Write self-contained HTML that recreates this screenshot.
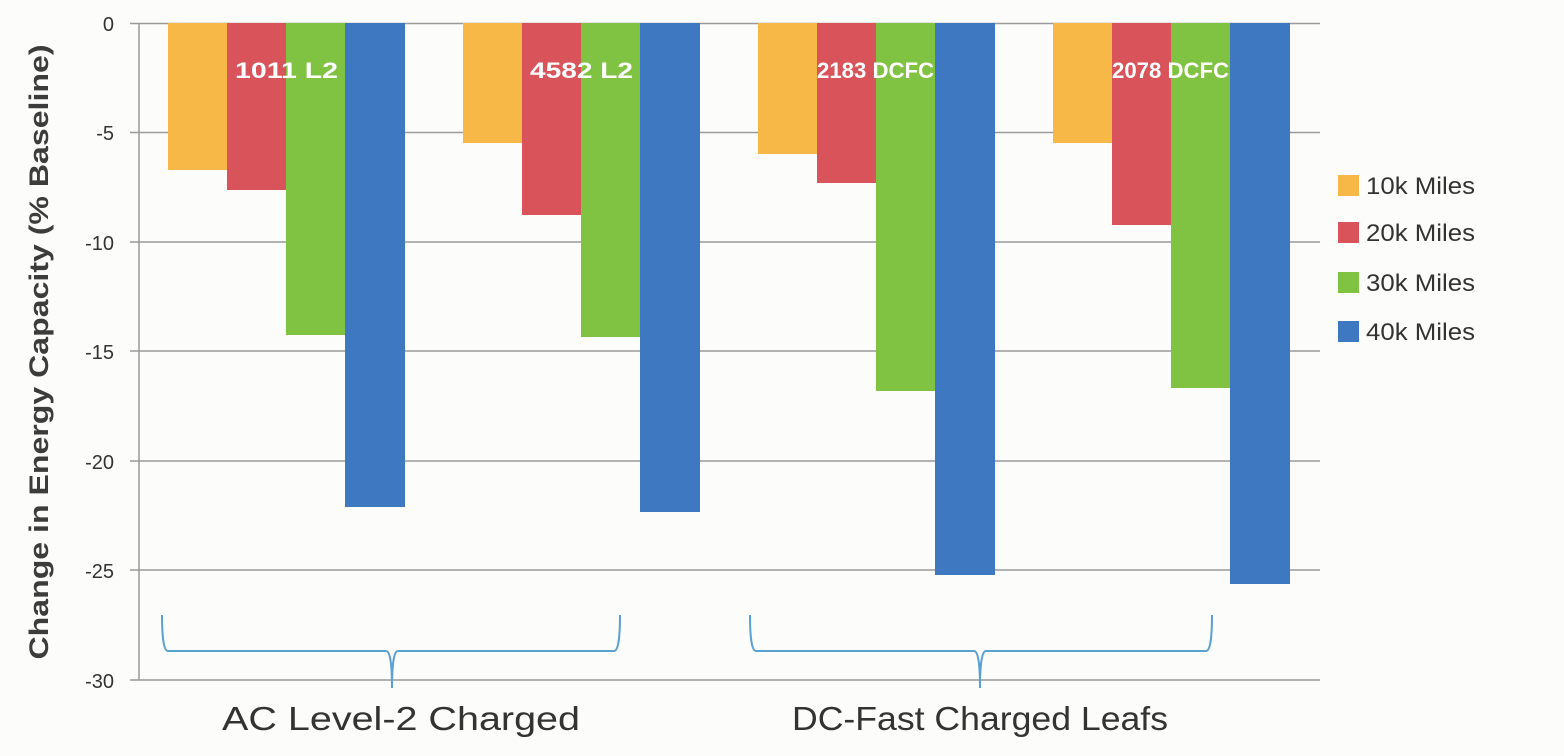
<!DOCTYPE html>
<html><head><meta charset="utf-8"><style>
html,body{margin:0;padding:0;background:#fcfcfa;}
svg{display:block;font-family:"Liberation Sans",sans-serif;}
</style></head><body>
<svg width="1564" height="756" viewBox="0 0 1564 756" xmlns="http://www.w3.org/2000/svg">
<rect width="1564" height="756" fill="#fcfcfa"/>
<g stroke="#9a9a9a" stroke-width="1.5">
<line x1="130" y1="23.5" x2="1320" y2="23.5"/>
<line x1="130" y1="132.5" x2="1320" y2="132.5"/>
<line x1="130" y1="242" x2="1320" y2="242"/>
<line x1="130" y1="351" x2="1320" y2="351"/>
<line x1="130" y1="461" x2="1320" y2="461"/>
<line x1="130" y1="570" x2="1320" y2="570"/>
<line x1="130" y1="680" x2="1320" y2="680"/>
<line x1="139" y1="23" x2="139" y2="680"/>
</g>
<g font-size="20" fill="#333" text-anchor="end">
<text x="114" y="31">0</text>
<text x="114" y="140">-5</text>
<text x="114" y="250">-10</text>
<text x="114" y="359">-15</text>
<text x="114" y="469">-20</text>
<text x="114" y="578">-25</text>
<text x="114" y="688">-30</text>
</g>
<text transform="translate(48,352) rotate(-90)" text-anchor="middle" font-size="27" font-weight="bold" fill="#3c3c3c" textLength="615" lengthAdjust="spacingAndGlyphs">Change in Energy Capacity (% Baseline)</text>
<g>
<rect x="168" y="23" width="59" height="147" fill="#f8b847"/>
<rect x="227" y="23" width="59" height="167" fill="#d9545a"/>
<rect x="286" y="23" width="59" height="312" fill="#80c342"/>
<rect x="345" y="23" width="60" height="484" fill="#3d78c0"/>
<rect x="463" y="23" width="59" height="120" fill="#f8b847"/>
<rect x="522" y="23" width="59" height="192" fill="#d9545a"/>
<rect x="581" y="23" width="59" height="314" fill="#80c342"/>
<rect x="640" y="23" width="60" height="489" fill="#3d78c0"/>
<rect x="758" y="23" width="59" height="131" fill="#f8b847"/>
<rect x="817" y="23" width="59" height="160" fill="#d9545a"/>
<rect x="876" y="23" width="59" height="368" fill="#80c342"/>
<rect x="935" y="23" width="60" height="552" fill="#3d78c0"/>
<rect x="1053" y="23" width="59" height="120" fill="#f8b847"/>
<rect x="1112" y="23" width="59" height="202" fill="#d9545a"/>
<rect x="1171" y="23" width="59" height="365" fill="#80c342"/>
<rect x="1230" y="23" width="60" height="561" fill="#3d78c0"/>
</g>
<g font-size="22" font-weight="bold" fill="#ffffff">
<text x="235" y="78" textLength="103" lengthAdjust="spacingAndGlyphs">1011 L2</text>
<text x="530" y="78" textLength="103" lengthAdjust="spacingAndGlyphs">4582 L2</text>
<text x="817" y="78" textLength="117" lengthAdjust="spacingAndGlyphs">2183 DCFC</text>
<text x="1112" y="78" textLength="117" lengthAdjust="spacingAndGlyphs">2078 DCFC</text>
</g>
<g fill="none" stroke="#5aa0d0" stroke-width="2">
<path d="M162 615 Q162 651 168 651 L386 651 Q392 651 392 688 Q392 651 398 651 L614 651 Q620 651 620 615"/>
<path d="M750 615 Q750 651 756 651 L974 651 Q980 651 980 688 Q980 651 986 651 L1206 651 Q1212 651 1212 615"/>
</g>
<g font-size="33" fill="#333">
<text x="222" y="730" textLength="358" lengthAdjust="spacingAndGlyphs">AC Level-2 Charged</text>
<text x="792" y="730" textLength="376" lengthAdjust="spacingAndGlyphs">DC-Fast Charged Leafs</text>
</g>
<g font-size="24" fill="#333">
<rect x="1338" y="175" width="21" height="21" fill="#f8b847"/><text x="1366" y="194" textLength="109" lengthAdjust="spacingAndGlyphs">10k Miles</text>
<rect x="1338" y="222" width="21" height="21" fill="#d9545a"/><text x="1366" y="241" textLength="109" lengthAdjust="spacingAndGlyphs">20k Miles</text>
<rect x="1338" y="272" width="21" height="21" fill="#80c342"/><text x="1366" y="291" textLength="109" lengthAdjust="spacingAndGlyphs">30k Miles</text>
<rect x="1338" y="321" width="21" height="21" fill="#3d78c0"/><text x="1366" y="340" textLength="109" lengthAdjust="spacingAndGlyphs">40k Miles</text>
</g>
</svg>
</body></html>
